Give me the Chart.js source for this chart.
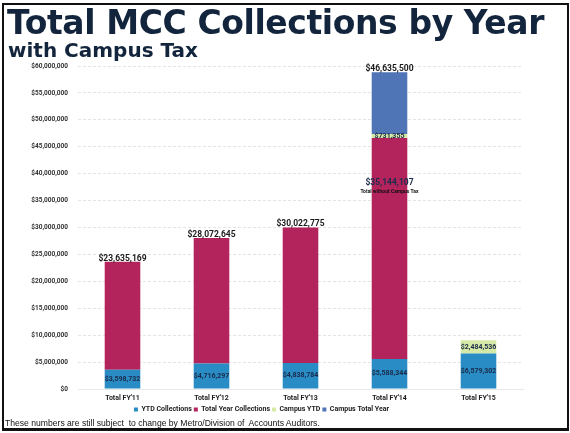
<!DOCTYPE html>
<html>
<head>
<meta charset="utf-8">
<script src="https://cdn.jsdelivr.net/npm/chart.js@4.4.1/dist/chart.umd.min.js"></script>
<style>
  html, body { margin: 0; padding: 0; background: #fff; }
  #wrap { position: relative; width: 570px; height: 433px; overflow: hidden; }
  #frame { position: absolute; left: 2px; top: 3px; width: 563px; height: 423px; border: 2px solid #111; border-bottom-width: 3px; }
  #title { position: absolute; left: 7px; top: 3px; font: bold 33px "DejaVu Sans", sans-serif; color: #13253d; letter-spacing: -0.4px; white-space: nowrap; }
  #subtitle { position: absolute; left: 8px; top: 38px; font: bold 20px "DejaVu Sans", sans-serif; color: #13253d; white-space: nowrap; }
  #note { position: absolute; left: 5px; top: 418px; font: 8.6px "Liberation Sans", Arial, sans-serif; color: #111; white-space: pre; }
  canvas { position: absolute; left: 0; top: 0; }
</style>
</head>
<body>
<div id="wrap">
  <canvas id="collections" width="570" height="433"></canvas>
  <div id="title">Total MCC Collections by Year</div>
  <div id="subtitle">with Campus Tax</div>
  <div id="note">These numbers are still subject  to change by Metro/Division of  Accounts Auditors.</div>
  <div id="frame"></div>
</div>
<script>
const years = ["Total FY'11", "Total FY'12", "Total FY'13", "Total FY'14", "Total FY'15"];
const ytdCollections = [3598732, 4716297, 4838784, 5588344, 6579302];
const totalYearCollections = [20036437, 23356348, 25183991, 41047156, null];
const campusYtd = [null, null, null, 731355, 2484536];
const campusTotalYear = [null, null, null, 11491393, null];
const noCampusTax = [null, null, null, 35144107, null];
const yTicks = { min: 0, max: 60000000, step: 5000000 };

const money = v => '$' + Math.round(v).toLocaleString('en-US');
const FONT = 'Roboto';

// value labels: segment values inside, collections total on top, FY'14 note
const barLabels = {
  id: 'barLabels',
  afterDatasetsDraw(chart) {
    const ctx = chart.ctx;
    const metas = [0, 1, 2, 3].map(i => chart.getDatasetMeta(i));
    ctx.save();
    ctx.textAlign = 'center';

    // centred labels on YTD and Campus YTD segments
    [[0, ytdCollections], [2, campusYtd]].forEach(([di, values]) => {
      values.forEach((v, i) => {
        if (v == null) return;
        const bar = metas[di].data[i];
        ctx.font = `bold 7px ${FONT}`;
        ctx.fillStyle = '#1a2a4a';
        ctx.textBaseline = 'middle';
        ctx.fillText(money(v), bar.x, (bar.y + bar.base) / 2);
      });
    });

    // collections total above each stack
    years.forEach((_, i) => {
      if (totalYearCollections[i] == null) return;
      let top = Infinity, x = 0;
      metas.forEach((m, di) => {
        const el = m.data[i];
        const v = chart.data.datasets[di].data[i];
        if (v != null && el.y < top) { top = el.y; x = el.x; }
      });
      ctx.font = `bold 8.5px ${FONT}`;
      ctx.fillStyle = '#1a1a1a';
      ctx.textBaseline = 'bottom';
      ctx.fillText(money(ytdCollections[i] + totalYearCollections[i]), x, top + 1);
    });

    // total without campus tax
    const yScale = chart.scales.y;
    noCampusTax.forEach((v, i) => {
      if (v == null) return;
      const x = metas[0].data[i].x;
      const y = yScale.getPixelForValue(v);
      ctx.fillStyle = '#1c2c4c';
      ctx.textBaseline = 'bottom';
      ctx.font = `bold 8.5px ${FONT}`;
      ctx.fillText(money(v), x, y - 13);
      ctx.font = `bold 5px ${FONT}`;
      ctx.fillStyle = '#111';
      ctx.fillText('Total without Campus Tax', x, y - 6);
    });
    ctx.restore();
  }
};

new Chart(document.getElementById('collections'), {
  type: 'bar',
  data: {
    labels: years,
    datasets: [
      { label: 'YTD Collections', data: ytdCollections, backgroundColor: '#2a8cc4' },
      { label: 'Total Year Collections', data: totalYearCollections, backgroundColor: '#b2245b' },
      { label: 'Campus YTD', data: campusYtd, backgroundColor: '#d6e9a6' },
      { label: 'Campus Total Year', data: campusTotalYear, backgroundColor: '#5075b7' }
    ]
  },
  options: {
    responsive: false,
    animation: false,
    categoryPercentage: 1,
    barPercentage: 0.4,
    layout: { padding: { top: 66, right: 47, bottom: 10, left: 0 } },
    scales: {
      x: {
        stacked: true,
        afterFit: scale => { scale.height = 15; },
        grid: { display: false, drawTicks: false },
        border: { color: '#e8e8e8' },
        ticks: { color: '#1e1e1e', padding: 5, font: { family: FONT, weight: 'bold', size: 7 } }
      },
      y: {
        stacked: true,
        min: yTicks.min,
        max: yTicks.max,
        afterFit: scale => { scale.width = 78; },
        grid: { color: '#e4e4e4', drawTicks: false },
        border: { display: false, dash: [3, 2] },
        ticks: {
          stepSize: yTicks.step,
          padding: 10,
          color: '#333',
          font: { family: FONT, weight: 'bold', size: 6.5 },
          callback: v => money(v)
        }
      }
    },
    plugins: {
      legend: {
        position: 'bottom',
        labels: {
          boxWidth: 4,
          boxHeight: 4,
          padding: 2,
          color: '#222',
          font: { family: FONT, weight: 'bold', size: 7 }
        }
      },
      tooltip: { enabled: false }
    }
  },
  plugins: [barLabels]
});
</script>
</body>
</html>
